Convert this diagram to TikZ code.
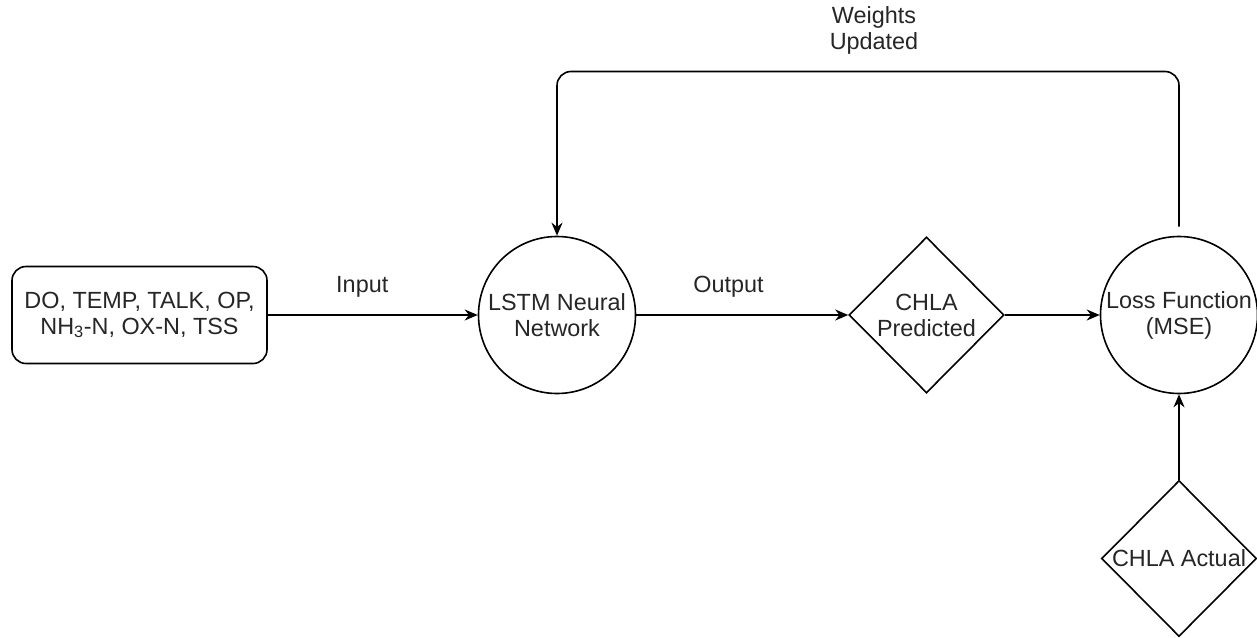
\documentclass[tikz,border=0pt]{standalone}
\usepackage{fontspec}
\setmainfont{Liberation Sans}
\usetikzlibrary{shapes.geometric,arrows.meta}
\begin{document}
\begin{tikzpicture}[x=1pt,y=-1pt,
  every node/.style={font=\fontsize{23.4}{26}\selectfont, text=black!85, align=center},
  shapeline/.style={draw=black, line width=1.6pt, fill=white, inner sep=0pt},
  databox/.style={shapeline, rectangle, rounded corners=14pt, minimum width=255pt, minimum height=97pt},
  procircle/.style={shapeline, circle, minimum size=157pt},
  valdiamond/.style={shapeline, diamond, minimum width=155pt, minimum height=156pt},
  conn/.style={draw=black, line width=1.6pt, -{Stealth[length=13pt,width=11pt]}},
  edgelabel/.style={inner sep=0pt}]
  % canvas
  \useasboundingbox (0,0) rectangle (1257,637);

  % nodes
  \node[databox] (inp) at (139.5,315) {DO, TEMP, TALK, OP,\\NH\textsubscript{3}-N, OX-N, TSS};
  \node[procircle] (lstm) at (557,315) {LSTM Neural\\Network};
  \node[valdiamond] (pred) at (926.5,315) {CHLA\\Predicted};
  \node[procircle] (loss) at (1179,315) {Loss Function\\(MSE)};
  \node[valdiamond] (act) at (1179,558.5) {CHLA Actual};

  % feedback route height
  \coordinate (fb) at (0,71.5);

  % connectors
  \draw[conn] (inp.east) -- (lstm.west)
    node[edgelabel, pos=0.45, yshift=28pt] {Input};
  \draw[conn] (lstm.east) -- (pred.west)
    node[edgelabel, pos=0.435, yshift=28pt] {Output};
  \draw[conn] (pred.east) -- (loss.west);
  \draw[conn] (act.north) -- (loss.south);
  \draw[conn, shorten <=9pt, rounded corners=14pt]
    (loss.north) -- (loss.north |- fb) -- (lstm.north |- fb) -- (lstm.north);
  \node[edgelabel] (wlabel) at (874,30) {Weights\\Updated};
\end{tikzpicture}
\end{document}
